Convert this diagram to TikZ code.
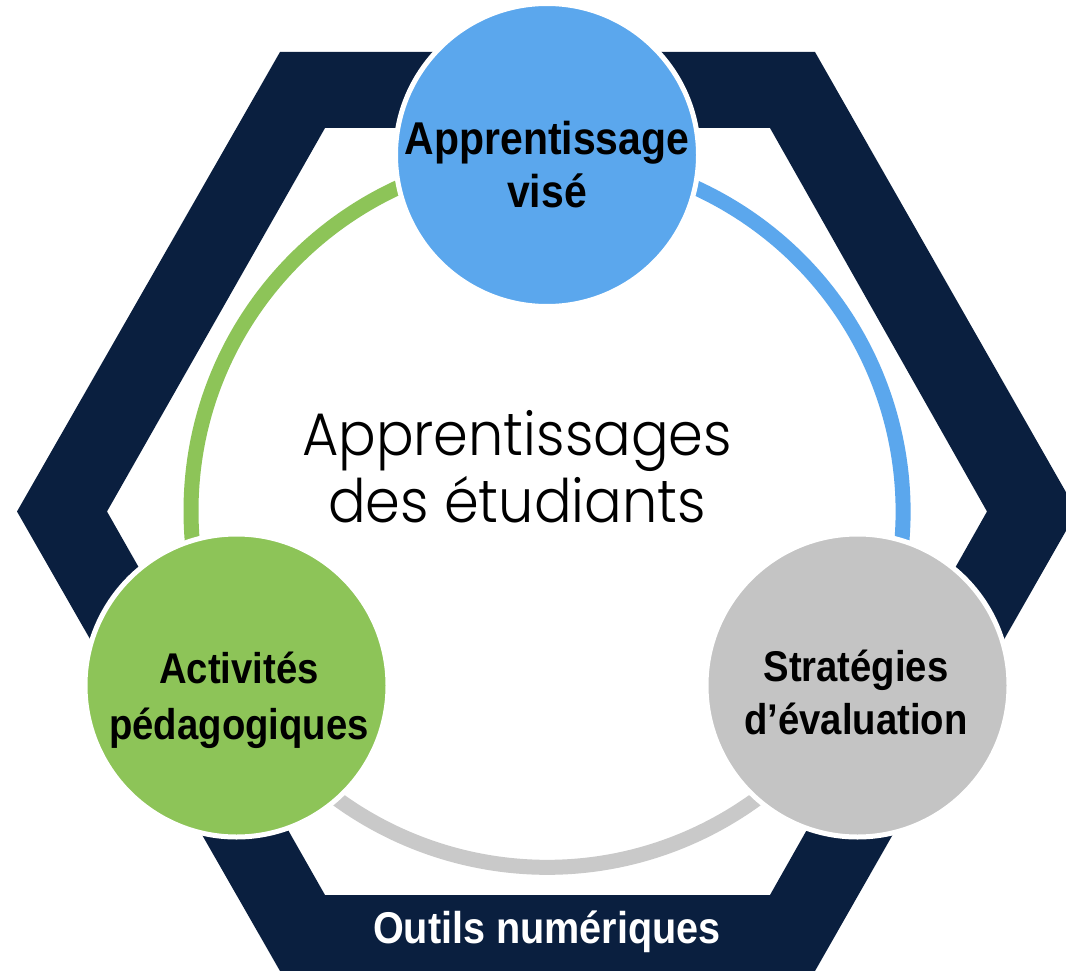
\documentclass[tikz,border=0pt]{standalone}
\usepackage{fontspec}
\usetikzlibrary{backgrounds}

\newfontfamily\labelfont{Liberation Sans}[FakeStretch=0.89]
\newfontfamily\centrefont{Poppins Light}[FakeStretch=0.93]

\definecolor{navy}{RGB}{10,31,63}
\definecolor{aimblue}{RGB}{91,167,237}
\definecolor{actgreen}{RGB}{141,196,88}
\definecolor{evalgray}{RGB}{196,196,196}
\definecolor{ringgray}{RGB}{201,201,201}

\begin{document}
\begin{tikzpicture}[x=1pt,y=-1pt,
    bubble/.style={circle,draw=white,line width=5pt,minimum size=303pt,inner sep=0pt},
    ring/.style={line width=15pt},
    bubbletext/.style={align=center,text=black,
        font=\labelfont\bfseries\fontsize{43}{53}\selectfont}]
    \useasboundingbox (0,0) rectangle (1066,971);
    \clip (0,0) rectangle (1066,971);
    \fill[white] (0,0) rectangle (1066,971);

    % Hexagon frame
    \fill[navy,even odd rule]
        (17,511.5) -- (280,52) -- (815,52) -- (1077,511.5)
            -- (815,971) -- (280,971) -- cycle
        (107,511.5) -- (325,128) -- (770,128) -- (987,511.5)
            -- (770,895) -- (325,895) -- cycle;

    % Centres of the three steps
    \coordinate (hub) at (547,511);
    \coordinate (aim) at (547,155);
    \coordinate (act) at (236.5,685.5);
    \coordinate (eval) at (857.5,685.5);

    % Ring between the steps
    \draw[ring,actgreen] (aim) arc[start angle=270,end angle=150.7,radius=356];
    \draw[ring,ringgray] (act) arc[start angle=150.7,end angle=29.3,radius=356];
    \draw[ring,aimblue] (eval) arc[start angle=29.3,end angle=-90,radius=356];

    % Step circles
    \node[bubble,fill=aimblue] (aimc) at (aim) {};
    \node[bubble,fill=actgreen] (actc) at (act) {};
    \node[bubble,fill=evalgray] (evalc) at (eval) {};

    % Step labels
    \node[bubbletext,font=\labelfont\bfseries\fontsize{46}{53}\selectfont]
        (aimtext) at ([yshift=-10pt]aimc.center) {Apprentissage\\visé};
    \node[bubbletext,font=\labelfont\bfseries\fontsize{43}{56}\selectfont]
        (acttext) at ([xshift=2.5pt,yshift=-14.5pt]actc.center) {Activités\\pédagogiques};
    \node[bubbletext]
        (evaltext) at ([xshift=-1.5pt,yshift=-6.5pt]evalc.center) {Stratégies\\d’évaluation};

    % Centre text
    \node[align=center,font=\centrefont\fontsize{60}{67}\selectfont]
        (learning) at (517,467) {Apprentissages\\des étudiants};

    % Frame label
    \node[anchor=base,text=white,font=\labelfont\bfseries\fontsize{44.5}{50}\selectfont]
        (tools) at (547,943) {Outils numériques};
\end{tikzpicture}
\end{document}
